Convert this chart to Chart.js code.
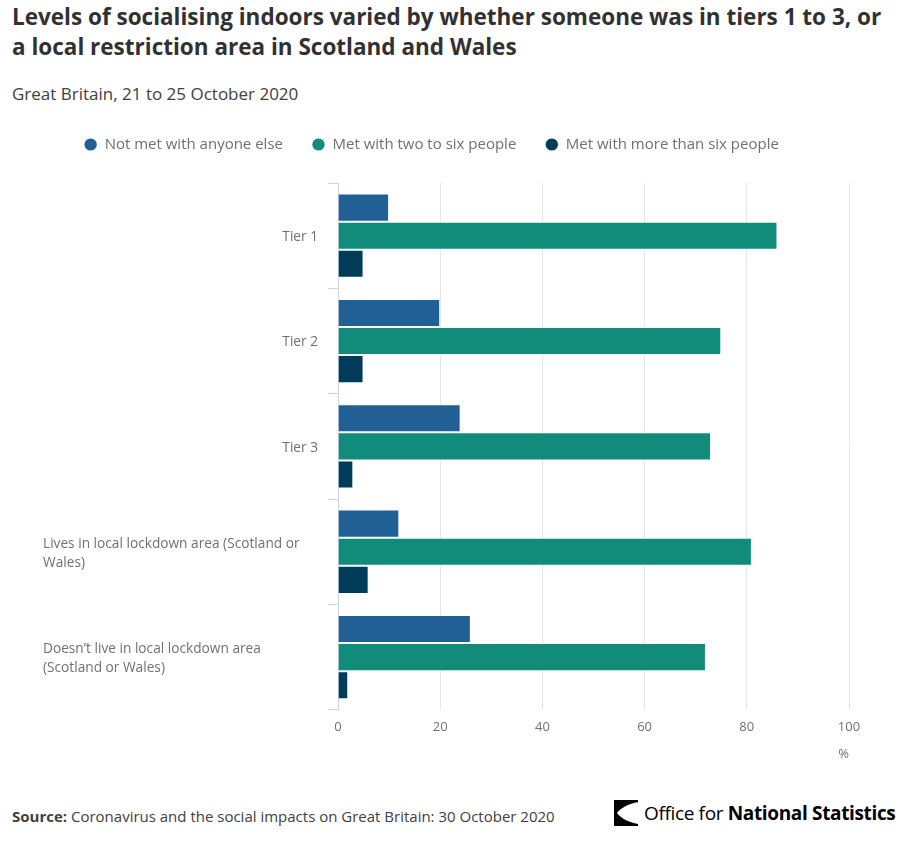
<!DOCTYPE html>
<html>
<head>
<meta charset="utf-8">
<script src="https://cdn.jsdelivr.net/npm/chart.js@4"></script>
<style>
  html, body { margin: 0; padding: 0; background: #fff; width: 904px; height: 855px; overflow: hidden; font-family: "Open Sans", sans-serif; }
  #title { position: absolute; left: 12px; top: 2px; width: 875px; font-size: 22.5px; font-weight: 700; color: #323132; line-height: 30px; margin: 0; }
  #subtitle { position: absolute; left: 12px; top: 82px; font-size: 17px; color: #414042; margin: 0; }
  #wrap { position: absolute; left: 0; top: 108px; width: 904px; height: 658px; }
  #source { position: absolute; left: 12px; top: 806px; font-size: 15px; color: #414042; }
  #logo { position: absolute; left: 614px; top: 800px; height: 26px; display: flex; align-items: center; }
  #logo span { font-size: 19px; color: #000; margin-left: 6px; letter-spacing: -0.35px; }
</style>
</head>
<body>
<h1 id="title">Levels of socialising indoors varied by whether someone was in tiers 1 to 3, or a local restriction area in Scotland and Wales</h1>
<p id="subtitle">Great Britain, 21 to 25 October 2020</p>
<div id="wrap"><canvas id="c"></canvas></div>
<div id="source"><b>Source:</b> Coronavirus and the social impacts on Great Britain: 30 October 2020</div>
<div id="logo">
  <svg width="24" height="26" viewBox="0 0 24 26"><path d="M0 0 H24 V26 H0 Z M24 2 C12 4 5 10 3 13 C5 16 12 22 24 24 Z" fill="#000" fill-rule="evenodd"/></svg>
  <span>Office for <b>National Statistics</b></span>
</div>
<script>
const categories = [
  ["Tier 1"],
  ["Tier 2"],
  ["Tier 3"],
  ["Lives in local lockdown area (Scotland or", "Wales)"],
  ["Doesn\u2019t live in local lockdown area", "(Scotland or Wales)"]
];
const seriesNames = ["Not met with anyone else", "Met with two to six people", "Met with more than six people"];
const notMet = [10, 20, 24, 12, 26];
const twoToSix = [86, 75, 73, 81, 72];
const moreThanSix = [5, 5, 3, 6, 2];
const xTicks = [0, 20, 40, 60, 80, 100];
const colors = ["#206095", "#118c7b", "#003c57"];

const labelPlugin = {
  id: 'ylabels',
  afterDraw(chart) {
    const ctx = chart.ctx;
    const y = chart.scales.y;
    ctx.save();
    ctx.font = '13.7px "Open Sans", sans-serif';
    ctx.fillStyle = '#707070';
    ctx.textBaseline = 'middle';
    const lh = 19;
    categories.forEach((lines, i) => {
      const cy = y.getPixelForValue(i) + 1.5;
      const top = cy - (lines.length - 1) * lh / 2;
      if (lines.length === 1) {
        ctx.textAlign = 'right';
        lines.forEach((t, k) => ctx.fillText(t, y.right - 20, top + k * lh));
      } else {
        ctx.textAlign = 'left';
        lines.forEach((t, k) => ctx.fillText(t, 43, top + k * lh));
      }
    });
    ctx.restore();
  }
};

const legendGap = {
  id: 'legendGap',
  beforeInit(chart) {
    const lg = chart.legend;
    if (!lg) return;
    const fit = lg.fit;
    lg.fit = function () { fit.call(this); this.height += 21; };
  }
};

new Chart(document.getElementById('c'), {
  type: 'bar',
  data: {
    labels: categories.map(l => l.join(' ')),
    datasets: [
      { label: seriesNames[0], data: notMet, backgroundColor: colors[0] },
      { label: seriesNames[1], data: twoToSix, backgroundColor: colors[1] },
      { label: seriesNames[2], data: moreThanSix, backgroundColor: colors[2] }
    ].map(d => Object.assign(d, { borderColor: 'rgba(255,255,255,0.6)', borderWidth: 1, categoryPercentage: 0.8, barPercentage: 1.0 }))
  },
  options: {
    indexAxis: 'y',
    responsive: true,
    maintainAspectRatio: false,
    animation: false,
    layout: { padding: { left: 14, right: 55, top: 0, bottom: 0 } },
    plugins: {
      legend: {
        position: 'top',
        labels: {
          usePointStyle: true, pointStyle: 'circle', boxWidth: 9, boxHeight: 9, pointStyleWidth: 13,
          color: '#707070', font: { family: '"Open Sans", sans-serif', size: 15 }, padding: 29
        }
      },
      tooltip: { enabled: false }
    },
    scales: {
      x: {
        min: 0, max: 100,
        afterBuildTicks(s) { s.ticks = xTicks.map(v => ({ value: v })); },
        grid: { color: '#e6e6e6', drawTicks: false },
        border: { display: false },
        ticks: { color: '#707070', font: { family: '"Open Sans", sans-serif', size: 13 }, padding: 10 },
        title: { display: true, text: '%', align: 'end', color: '#707070', font: { family: '"Open Sans", sans-serif', size: 13 }, padding: { top: 1 } }
      },
      y: {
        afterFit(s) { s.width = 324; },
        grid: { offset: true, drawOnChartArea: false, color: '#ccd6eb', tickLength: 10 },
        border: { display: true, color: '#ccd6eb' },
        ticks: { display: false }
      }
    }
  },
  plugins: [labelPlugin, legendGap]
});
</script>
</body>
</html>
